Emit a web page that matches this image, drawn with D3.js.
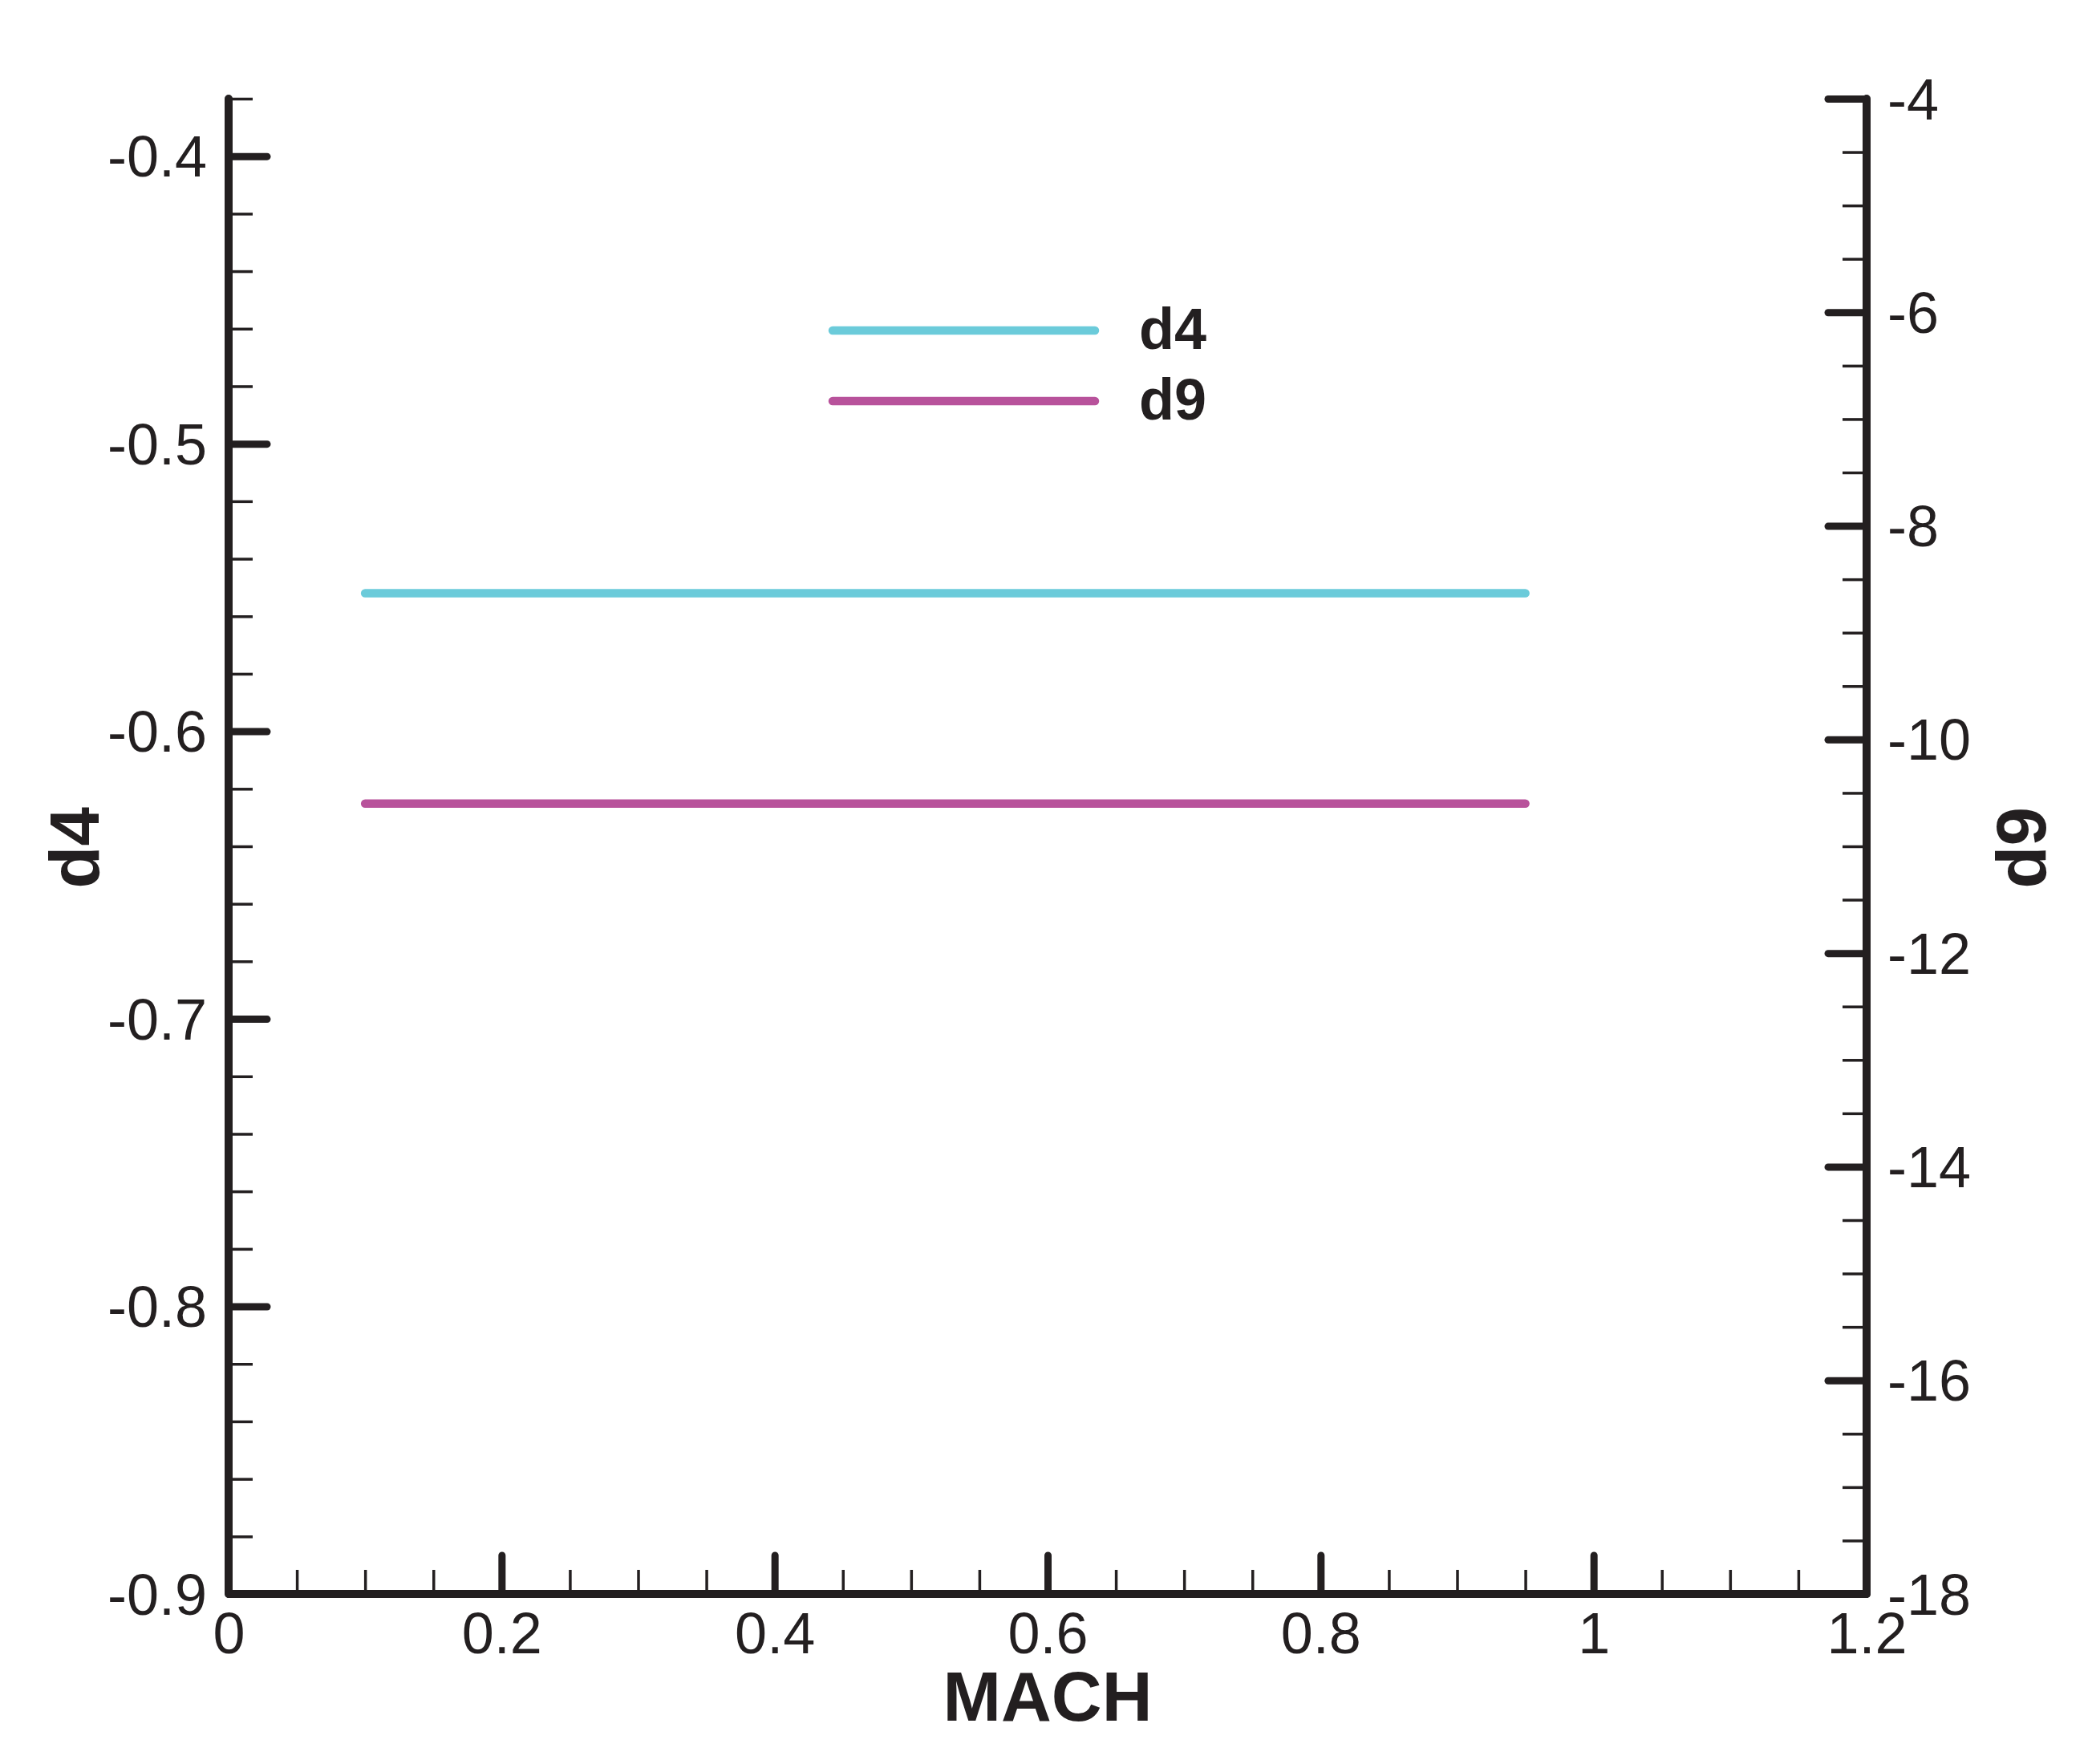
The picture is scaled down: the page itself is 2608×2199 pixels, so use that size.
<!DOCTYPE html>
<html>
<head>
<meta charset="utf-8">
<script src="https://cdn.jsdelivr.net/npm/d3@7"></script>
<style>
html,body{margin:0;padding:0;background:#fff;}
svg{display:block;}
text{font-family:"Liberation Sans",Arial,Helvetica,sans-serif;fill:#231F20;}
</style>
</head>
<body>
<svg id="chart" width="2608" height="2199"></svg>
<script>
// ---- data ----
const mach = [0.1, 0.2, 0.3, 0.4, 0.5, 0.6, 0.7, 0.8, 0.9, 0.95];
const d4 = [-0.552, -0.552, -0.552, -0.552, -0.552, -0.552, -0.552, -0.552, -0.552, -0.552];
const d9 = [-10.6, -10.6, -10.6, -10.6, -10.6, -10.6, -10.6, -10.6, -10.6, -10.6];

const xDomain = [0, 1.2];
const d4Domain = [-0.9, -0.38];
const d9Domain = [-18, -4];

const xTicks = [0, 0.2, 0.4, 0.6, 0.8, 1, 1.2];
const xTickLabels = ["0", "0.2", "0.4", "0.6", "0.8", "1", "1.2"];
const d4Ticks = [-0.9, -0.8, -0.7, -0.6, -0.5, -0.4];
const d4TickLabels = ["-0.9", "-0.8", "-0.7", "-0.6", "-0.5", "-0.4"];
const d9Ticks = [-18, -16, -14, -12, -10, -8, -6, -4];
const d9TickLabels = ["-18", "-16", "-14", "-12", "-10", "-8", "-6", "-4"];
const xMinor = [0.05,0.1,0.15,0.25,0.3,0.35,0.45,0.5,0.55,0.65,0.7,0.75,0.85,0.9,0.95,1.05,1.1,1.15];
const d4Minor = [-0.88,-0.86,-0.84,-0.82,-0.78,-0.76,-0.74,-0.72,-0.68,-0.66,-0.64,-0.62,-0.58,-0.56,-0.54,-0.52,-0.48,-0.46,-0.44,-0.42,-0.38];
const d9Minor = [-17.5,-17,-16.5,-15.5,-15,-14.5,-13.5,-13,-12.5,-11.5,-11,-10.5,-9.5,-9,-8.5,-7.5,-7,-6.5,-5.5,-5,-4.5];

const seriesNames = ["d4", "d9"];
const seriesColors = ["#6BCBDA", "#B8529B"];

// ---- layout ----
const L = 285, R = 2327, T = 123, B = 1987;
const ink = "#231F20";

const svg = d3.select("#chart");
const x = d3.scaleLinear().domain(xDomain).range([L, R]);
const yL = d3.scaleLinear().domain(d4Domain).range([B, T]);
const yR = d3.scaleLinear().domain(d9Domain).range([B, T]);

function styleAxis(g, major) {
  g.select(".domain").remove();
  g.selectAll(".tick line")
    .attr("stroke", ink)
    .attr("stroke-width", major ? 9 : 3.5)
    .attr("stroke-linecap", major ? "round" : "butt");
  g.selectAll(".tick text")
    .attr("fill", ink)
    .style("font-family", '"Liberation Sans", Arial, sans-serif')
    .style("font-size", "72px");
}

// minor ticks
svg.append("g").attr("transform", `translate(0,${B})`)
  .call(d3.axisBottom(x).tickValues(xMinor).tickSize(-30).tickFormat(""))
  .call(g => styleAxis(g, false));
svg.append("g").attr("transform", `translate(${L},0)`)
  .call(d3.axisLeft(yL).tickValues(d4Minor).tickSize(-30).tickFormat(""))
  .call(g => styleAxis(g, false));
svg.append("g").attr("transform", `translate(${R},0)`)
  .call(d3.axisRight(yR).tickValues(d9Minor).tickSize(-30).tickFormat(""))
  .call(g => styleAxis(g, false));

// major ticks + labels
const gx = svg.append("g").attr("transform", `translate(0,${B})`)
  .call(d3.axisBottom(x).tickValues(xTicks).tickSizeInner(-48).tickSizeOuter(0).tickPadding(22)
    .tickFormat((d, i) => xTickLabels[i]))
  .call(g => styleAxis(g, true));
gx.selectAll(".tick text").attr("dy", null).attr("y", 74);

const gl = svg.append("g").attr("transform", `translate(${L},0)`)
  .call(d3.axisLeft(yL).tickValues(d4Ticks).tickSizeInner(-48).tickSizeOuter(0).tickPadding(27)
    .tickFormat((d, i) => d4TickLabels[i]))
  .call(g => styleAxis(g, true));
gl.selectAll(".tick text").attr("dy", null).attr("y", 25);

const gr = svg.append("g").attr("transform", `translate(${R},0)`)
  .call(d3.axisRight(yR).tickValues(d9Ticks).tickSizeInner(-48).tickSizeOuter(0).tickPadding(26)
    .tickFormat((d, i) => d9TickLabels[i]))
  .call(g => styleAxis(g, true));
gr.selectAll(".tick text").attr("dy", null).attr("y", 25);

// frame (left, bottom, right axis lines)
svg.append("path")
  .attr("d", `M${L},${T}L${L},${B}L${R},${B}L${R},${T}`)
  .attr("fill", "none").attr("stroke", ink).attr("stroke-width", 10)
  .attr("stroke-linecap", "round").attr("stroke-linejoin", "round");

// data lines
const lineD4 = d3.line().x((d, i) => x(mach[i])).y(d => yL(d));
const lineD9 = d3.line().x((d, i) => x(mach[i])).y(d => yR(d));
svg.append("path").attr("d", lineD4(d4)).attr("fill", "none")
  .attr("stroke", seriesColors[0]).attr("stroke-width", 10.5).attr("stroke-linecap", "round");
svg.append("path").attr("d", lineD9(d9)).attr("fill", "none")
  .attr("stroke", seriesColors[1]).attr("stroke-width", 10.5).attr("stroke-linecap", "round");

// legend
const legY = [412, 500];
seriesNames.forEach((name, i) => {
  svg.append("line").attr("x1", 1038).attr("x2", 1365).attr("y1", legY[i]).attr("y2", legY[i])
    .attr("stroke", seriesColors[i]).attr("stroke-width", 10.5).attr("stroke-linecap", "round");
  svg.append("text").attr("x", 1420).attr("y", legY[i] + 23)
    .style("font-size", "72px").style("font-weight", "bold").text(name);
});

// axis titles
svg.append("text").attr("x", (L + R) / 2).attr("y", 2145).attr("text-anchor", "middle")
  .style("font-size", "87px").style("font-weight", "bold").text("MACH");
svg.append("text").attr("transform", "translate(123,1057) rotate(-90)").attr("text-anchor", "middle")
  .style("font-size", "87px").style("font-weight", "bold").text("d4");
svg.append("text").attr("transform", "translate(2550,1057) rotate(-90)").attr("text-anchor", "middle")
  .style("font-size", "87px").style("font-weight", "bold").text("d9");
</script>
</body>
</html>
